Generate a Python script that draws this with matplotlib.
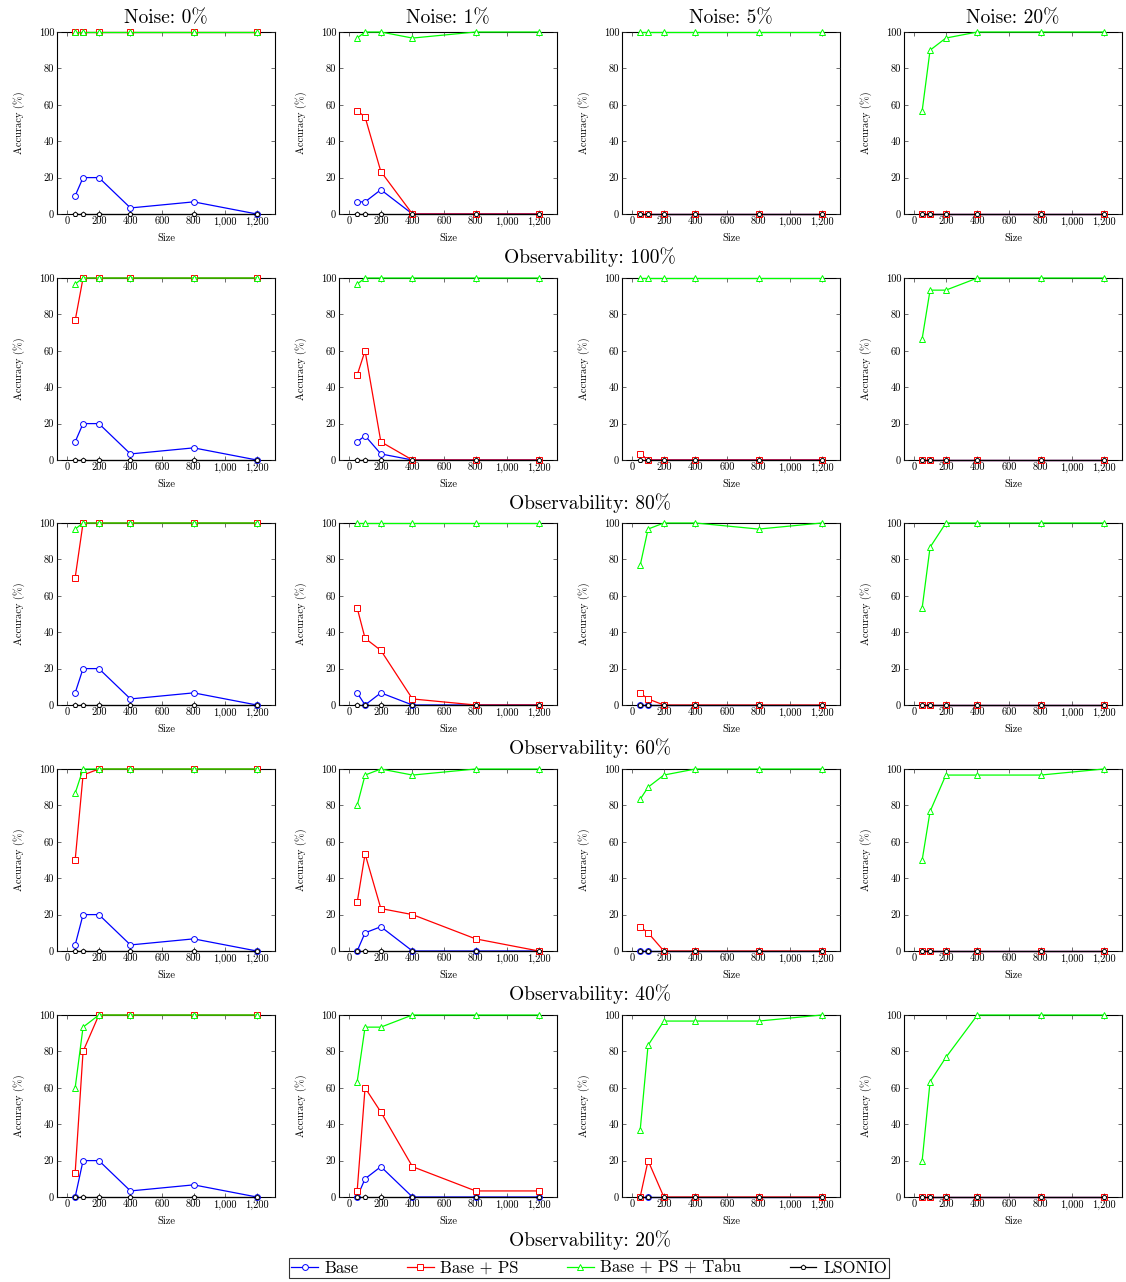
import numpy as np
import matplotlib
matplotlib.use("Agg")
import matplotlib.pyplot as plt

plt.rcParams["font.family"] = ["cmr10", "DejaVu Serif"]
plt.rcParams["axes.formatter.use_mathtext"] = True
plt.rcParams["mathtext.fontset"] = "cm"

sizes = [50, 100, 200, 400, 800, 1200]
noise_levels = ["0%", "1%", "5%", "20%"]
observability = ["100%", "80%", "60%", "40%", "20%"]
series_names = ["Base", "Base + PS", "Base + PS + Tabu", "LSONIO"]

z = [0, 0, 0, 0, 0, 0]
full = [100, 100, 100, 100, 100, 100]

# [observability row][noise column] -> accuracy per size
base = [
    [[10, 20, 20, 3.33, 6.67, 0], [6.67, 6.67, 13.33, 0, 0, 0], z, z],
    [[10, 20, 20, 3.33, 6.67, 0], [10, 13.33, 3.33, 0, 0, 0], [3.33, 0, 0, 0, 0, 0], z],
    [[6.67, 20, 20, 3.33, 6.67, 0], [6.67, 0, 6.67, 0, 0, 0], z, z],
    [[3.33, 20, 20, 3.33, 6.67, 0], [0, 10, 13.33, 0, 0, 0], z, z],
    [[0, 20, 20, 3.33, 6.67, 0], [0, 10, 16.67, 0, 0, 0], z, z],
]
base_ps = [
    [full, [56.67, 53.33, 23.33, 0, 0, 0], z, z],
    [[76.67, 100, 100, 100, 100, 100], [46.67, 60, 10, 0, 0, 0], [3.33, 0, 0, 0, 0, 0], z],
    [[70, 100, 100, 100, 100, 100], [53.33, 36.67, 30, 3.33, 0, 0], [6.67, 3.33, 0, 0, 0, 0], z],
    [[50, 96.67, 100, 100, 100, 100], [26.67, 53.33, 23.33, 20, 6.67, 0], [13.33, 10, 0, 0, 0, 0], z],
    [[13.33, 80, 100, 100, 100, 100], [3.33, 60, 46.67, 16.67, 3.33, 3.33], [0, 20, 0, 0, 0, 0], z],
]
base_ps_tabu = [
    [full, [96.67, 100, 100, 96.67, 100, 100], full, [56.67, 90, 96.67, 100, 100, 100]],
    [[96.67, 100, 100, 100, 100, 100], [96.67, 100, 100, 100, 100, 100], full,
     [66.67, 93.33, 93.33, 100, 100, 100]],
    [[96.67, 100, 100, 100, 100, 100], full, [76.67, 96.67, 100, 100, 96.67, 100],
     [53.33, 86.67, 100, 100, 100, 100]],
    [[86.67, 100, 100, 100, 100, 100], [80, 96.67, 100, 96.67, 100, 100],
     [83.33, 90, 96.67, 100, 100, 100], [50, 76.67, 96.67, 96.67, 96.67, 100]],
    [[60, 93.33, 100, 100, 100, 100], [63.33, 93.33, 93.33, 100, 100, 100],
     [36.67, 83.33, 96.67, 96.67, 96.67, 100], [20, 63.33, 76.67, 100, 100, 100]],
]
lsonio = [[z, z, z, z] for _ in range(5)]

styles = [
    dict(color="#0000ff", marker="o", mfc="white", ms=4.2, mew=0.7),
    dict(color="#ff0000", marker="s", mfc="white", ms=4.2, mew=0.7),
    dict(color="#00ff00", marker="^", mfc="white", ms=4.2, mew=0.7),
    dict(color="black", marker="p", mfc="white", ms=3.5, mew=0.7),
]

W, H = 1126, 1282
fig = plt.figure(figsize=(W / 100, H / 100), dpi=100)

col_left = [57, 339, 622, 904]
ax_w = 218
row_top = [32, 278, 523, 769, 1015]
ax_h = 182

handles = []
for r in range(5):
    for c in range(4):
        ax = fig.add_axes([col_left[c] / W, 1 - (row_top[r] + ax_h) / H, ax_w / W, ax_h / H])
        data = [base[r][c], base_ps[r][c], base_ps_tabu[r][c], lsonio[r][c]]
        for name, vals, st in zip(series_names, data, styles):
            ln, = ax.plot(sizes, vals, lw=0.9, label=name, clip_on=False, **st)
            if r == 0 and c == 0:
                handles.append(ln)
        ax.set_xlim(-65, 1315)
        ax.set_ylim(0, 100)
        ax.set_xticks([0, 200, 400, 600, 800, 1000, 1200])
        ax.set_xticklabels(["0", "200", "400", "600", "800", "1,000", "1,200"])
        ax.set_yticks([0, 20, 40, 60, 80, 100])
        ax.set_yticklabels(["0", "20", "40", "60", "80", "100"])
        ax.tick_params(direction="in", top=True, right=True, length=3, width=0.5,
                       labelsize=7.5, pad=2, colors="#333333", labelcolor="black")
        for sp in ax.spines.values():
            sp.set_linewidth(0.8)
            sp.set_zorder(1)
        ax.set_xlabel("Size", fontsize=7.5, labelpad=5)
        ax.set_ylabel("Accuracy (%)", fontsize=7.5, labelpad=10)
        if r == 0:
            ax.set_title("Noise: " + noise_levels[c], fontsize=14, pad=6)
    fig.text(590 / W, 1 - (row_top[r] + ax_h + 43) / H, "Observability: " + observability[r],
             ha="center", va="center", fontsize=14)

leg = fig.legend(handles=handles, loc="center", bbox_to_anchor=(589 / W, 1 - 1268 / H),
                 ncol=4, fontsize=12, frameon=True, fancybox=False, edgecolor="black",
                 handlelength=1.6, handletextpad=0.4, columnspacing=2.9,
                 borderpad=0.15)
leg.get_frame().set_linewidth(0.8)

fig.savefig("out.png", dpi=100, facecolor="white")
